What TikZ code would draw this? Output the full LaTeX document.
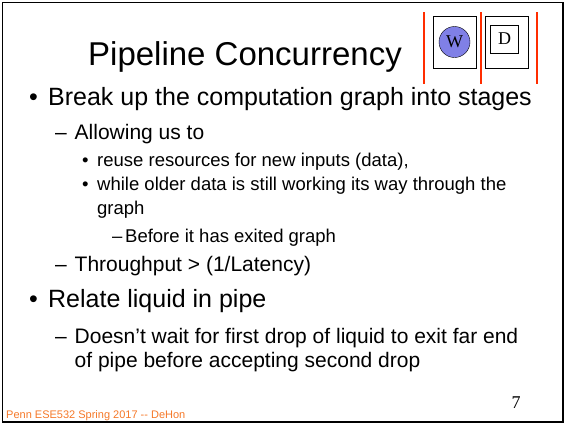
\documentclass[tikz,border=0pt]{standalone}
\usepackage{fontspec}
\setmainfont{Liberation Sans}
\newfontfamily\timesfont{Liberation Serif}
\usepackage{tikz}
\definecolor{stagered}{RGB}{255,45,0}
\definecolor{wfill}{RGB}{128,128,230}
\definecolor{footorange}{RGB}{245,120,40}

\begin{document}
\begin{tikzpicture}[x=1pt, y=-1pt,
    txt/.style = {anchor=base west, inner sep=0pt},
    lone/.style = {txt, font=\fontsize{25}{30}\selectfont},
    ltwo/.style = {txt, font=\fontsize{21}{25}\selectfont},
    lthree/.style = {txt, font=\fontsize{18.5}{22}\selectfont},
    stagebox/.style = {draw, minimum width=43pt, minimum height=52pt, inner sep=0pt, line width=0.8pt},
    stageline/.style = {stagered, line width=2pt}]

    \useasboundingbox (0,0) rectangle (565,424);
    \draw[line width=1.3pt] (2.5,2.5) rectangle (563,422);

    % title and the two stages
    \node[txt, font=\fontsize{33}{40}\selectfont] (title) at (88,65) {Pipeline Concurrency};
    \node[stagebox] (wbox) at (454.5,42) {};
    \node[draw, circle, fill=wfill, minimum size=31pt, inner sep=0pt, font=\timesfont\fontsize{18}{18}\selectfont] (w) at (wbox.center) {W};
    \node[stagebox] (dbox) at (506.5,42) {};
    \node[draw, minimum size=28pt, inner sep=0pt, line width=0.8pt, font=\timesfont\fontsize{18}{18}\selectfont] (d) at (504.5,39) {D};
    \foreach \x in {424,481,537}
        \draw[stageline] (\x,12) -- (\x,84);

    % bullets
    \node[lone] (b1) at (29,105) {\makebox[19pt][l]{•}Break up the computation graph into stages};
    \node[ltwo] (b2) at (55,139) {\makebox[19.5pt][l]{–}Allowing us to};
    \node[lthree] (b3) at (82,166) {\makebox[15pt][l]{•}reuse resources for new inputs (data),};
    \node[lthree] (b4) at (82,190) {\makebox[15pt][l]{•}while older data is still working its way through the};
    \node[lthree] (b4a) at (97,214) {graph};
    \node[lthree] (b5) at (112,242) {\makebox[13pt][l]{–}Before it has exited graph};
    \node[ltwo] (b6) at (55,271) {\makebox[19.5pt][l]{–}Throughput > (1/Latency)};
    \node[lone] (b7) at (29,307) {\makebox[19pt][l]{•}Relate liquid in pipe};
    \node[ltwo] (b8) at (55,343) {\makebox[19.5pt][l]{–}Doesn’t wait for first drop of liquid to exit far end};
    \node[ltwo] (b8a) at (74.5,367) {of pipe before accepting second drop};

    % footer
    \node[anchor=base, font=\timesfont\fontsize{18}{18}\selectfont] (pnum) at (516,408) {7};
    \node[txt, text=footorange, font=\fontsize{11}{13}\selectfont] (foot) at (6,418) {Penn ESE532 Spring 2017 {-}{-} DeHon};

\end{tikzpicture}
\end{document}
